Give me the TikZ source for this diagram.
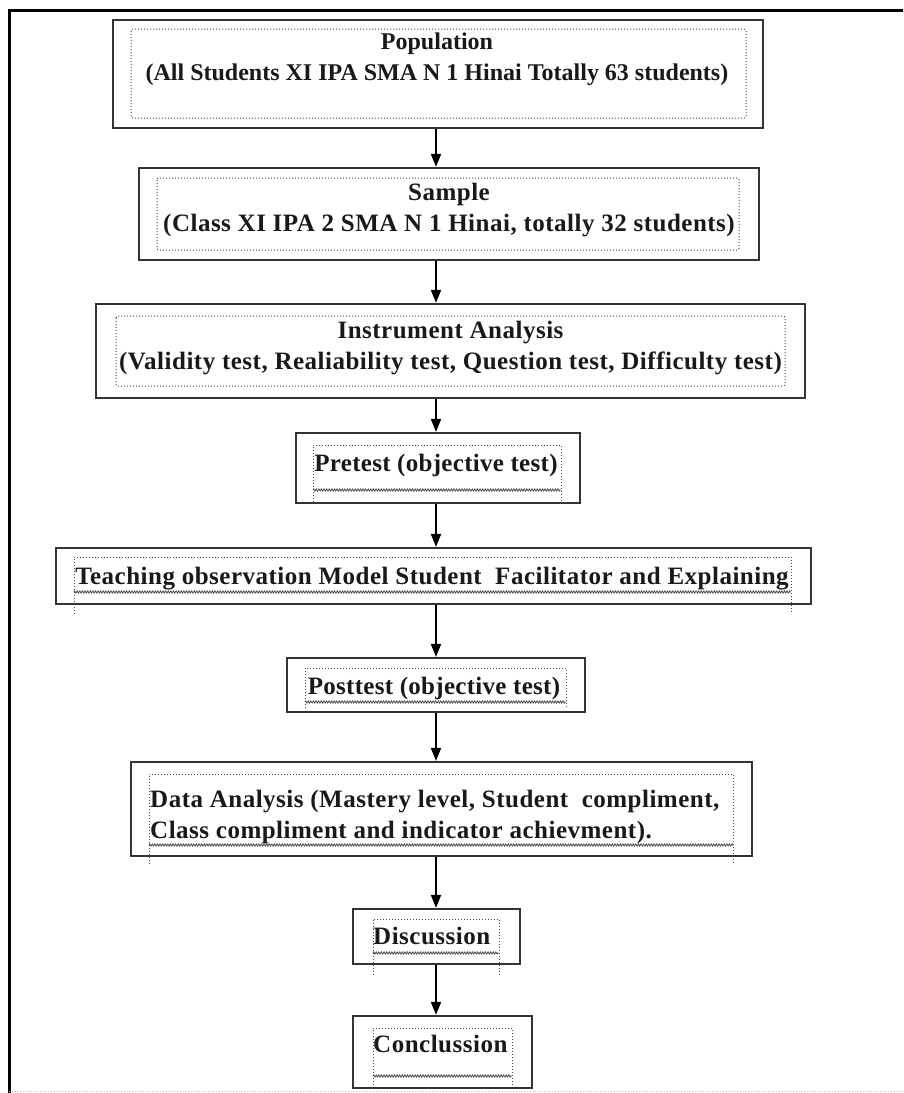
\documentclass[tikz,border=0pt]{standalone}
\usepackage{fontspec}
\setmainfont{Liberation Serif}
\usepackage{tikz}
\usetikzlibrary{arrows.meta, positioning, decorations.pathmorphing}
\tikzstyle{stage} = [rectangle, draw=black!80, line width=2.2pt, inner sep=0pt]
\tikzstyle{dotframe} = [draw=black!70, line width=1pt, dotted]
\tikzstyle{wavy} = [draw=black!70, line width=0.8pt, decorate, decoration={zigzag, amplitude=1.1pt, segment length=2.6pt}]
\tikzstyle{stagetext} = [font=\bfseries\fontsize{25}{31}\selectfont\addfontfeature{LetterSpace=2}, align=center, inner sep=0pt, text=black!90]
\tikzstyle{narrowtext} = [stagetext, font=\bfseries\fontsize{25}{31}\selectfont\addfontfeature{LetterSpace=1.2}]
\tikzstyle{arrow} = [-{Triangle[length=13pt, width=10pt]}, line width=1.8pt]

\begin{document}
\begin{tikzpicture}[x=1pt, y=-1pt]
                \useasboundingbox (0,0) rectangle (903,1093);
                % page frame
                \draw[line width=3pt] (903,10) -- (9,10) -- (9,1093);
                \draw[gray!50, dotted, line width=0.8pt] (9,1091) -- (903,1091);
                \coordinate (axis) at (436,0);
                % Population
                \node (pop) at (438,74) [stage, minimum width=650pt, minimum height=108pt] {};
                \draw[dotframe, rounded corners=2pt] (131,29) rectangle (746,118);
                \node (poptext) at (437,59.5) [stagetext, font=\bfseries\fontsize{24}{31}\selectfont] {Population\\(All Students XI IPA SMA N 1 Hinai Totally 63 students)};
                % Sample
                \node (sam) at (449,214) [stage, minimum width=620pt, minimum height=92pt] {};
                \draw[dotframe, rounded corners=2pt] (157,178) rectangle (739,250);
                \node (samtext) at (449,210) [stagetext] {Sample\\(Class XI IPA 2 SMA N 1 Hinai, totally 32 students)};
                % Instrument analysis
                \node (ins) at (450.5,351) [stage, minimum width=709pt, minimum height=94pt] {};
                \draw[dotframe, rounded corners=2pt] (116,316) rectangle (785,386);
                \node (instext) at (450.5,348.5) [stagetext] {Instrument Analysis\\(Validity test, Realiability test, Question test, Difficulty test)};
                % Pretest
                \node (pre) at (438,468) [stage, minimum width=284pt, minimum height=70pt] {};
                \draw[dotframe] (313,502) -- (313,445) -- (561,445) -- (561,502);
                \draw[wavy] (313,490) -- (561,490);
                \node (pretext) at (436,465) [narrowtext] {Pretest (objective test)};
                % Teaching
                \node (tea) at (433.5,576) [stage, minimum width=755pt, minimum height=56pt] {};
                \draw[dotframe] (74,614) -- (74,557) -- (791,557) -- (791,614);
                \draw[wavy] (74,592) -- (791,592);
                \node (teatext) at (432,578.5) [stagetext] {Teaching observation Model Student~ Facilitator and Explaining};
                % Posttest
                \node (post) at (436,685) [stage, minimum width=298pt, minimum height=54pt] {};
                \draw[dotframe] (305,708) -- (305,668) -- (566,668) -- (566,708);
                \draw[wavy] (305,702) -- (566,702);
                \node (posttext) at (434,688.5) [narrowtext] {Posttest (objective test)};
                % Data analysis
                \node (dat) at (441.5,809) [stage, minimum width=621pt, minimum height=94pt] {};
                \draw[dotframe] (149,864) -- (149,774) -- (733,774) -- (733,864);
                \draw[wavy] (149,845) -- (733,845);
                \node (dattext) at (150,817) [stagetext, align=left, anchor=west] {Data Analysis (Mastery level, Student~ compliment,\\Class compliment and indicator achievment).};
                % Discussion
                \node (dis) at (436.5,936.5) [stage, minimum width=167pt, minimum height=55pt] {};
                \draw[dotframe] (373,975) -- (373,919) -- (499,919) -- (499,975);
                \draw[wavy] (373,953) -- (499,953);
                \node (distext) at (373,936) [stagetext, anchor=west] {Discussion};
                % Conclusion
                \node (con) at (442.5,1052) [stage, minimum width=179pt, minimum height=72pt] {};
                \draw[dotframe] (373,1085) -- (373,1028) -- (512,1028) -- (512,1085);
                \draw[wavy] (373,1076) -- (512,1076);
                \node (context) at (373,1044) [stagetext, anchor=west] {Conclussion};
                % arrows
                \draw[arrow] (pop.south -| axis) -- (sam.north -| axis);
                \draw[arrow] (sam.south -| axis) -- (ins.north -| axis);
                \draw[arrow] (ins.south -| axis) -- (pre.north -| axis);
                \draw[arrow] (pre.south -| axis) -- (tea.north -| axis);
                \draw[arrow] (tea.south -| axis) -- (post.north -| axis);
                \draw[arrow] (post.south -| axis) -- (dat.north -| axis);
                \draw[arrow] (dat.south -| axis) -- (dis.north -| axis);
                \draw[arrow] (dis.south -| axis) -- (con.north -| axis);
\end{tikzpicture}
\end{document}
